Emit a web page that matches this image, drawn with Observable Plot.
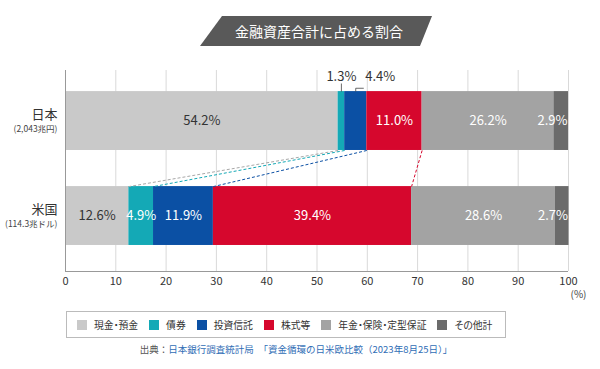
<!DOCTYPE html>
<html><head><meta charset="utf-8">
<script src="https://cdn.jsdelivr.net/npm/d3@7"></script>
<script src="https://cdn.jsdelivr.net/npm/@observablehq/plot@0.6"></script>
<style>
body{margin:0;background:#fff;font-family:'Noto Sans CJK JP',sans-serif;width:600px;height:369px;overflow:hidden;}
#title{margin:16px 0 0 200px;width:232px;height:30px;background:#595959;color:#fff;font-size:14px;line-height:30px;text-align:center;
 clip-path:polygon(22px 0,100% 0,calc(100% - 12px) 100%,0 100%);padding-left:6px;box-sizing:border-box;}
#chart{margin-top:9px;height:248px;}
#chart svg{display:block;}
#legend{margin:8px 0 0 66px;width:440px;height:27px;box-sizing:border-box;border:1px solid #bbb;display:flex;align-items:center;padding-left:10px;font-size:9.8px;color:#333;font-feature-settings:"palt";}
.item{display:flex;align-items:center;margin-right:11px;white-space:nowrap;}
.sw{width:10px;height:10px;margin-right:7px;}
#source{margin-top:4px;text-align:center;font-size:9.5px;color:#555;line-height:14px;padding-right:8px;}
#source span{color:#2f6db5;}
</style></head>
<body>
<div id="title">金融資産合計に占める割合</div>
<div id="chart"></div>
<div id="legend"></div>
<div id="source">出典：<span>日本銀行調査統計局　「資金循環の日米欧比較（2023年8月25日）」</span></div>
<script>
const countries = ["日本", "米国"];
const totals = ["(2,043兆円)", "(114.3兆ドル)"];
const categories = ["現金・預金", "債券", "投資信託", "株式等", "年金・保険・定型保証", "その他計"];
const colors = ["#c9c9c9", "#14a9b6", "#0b50a4", "#d6072d", "#a3a3a3", "#6b6b6b"];
const japanShares = [54.2, 1.3, 4.4, 11.0, 26.2, 2.9];
const usShares = [12.6, 4.9, 11.9, 39.4, 28.6, 2.7];
const xTicks = [0, 10, 20, 30, 40, 50, 60, 70, 80, 90, 100];

const H = 0.31;
const yDomain = [-0.532, 1.584];
const series = [japanShares, usShares];
const ends = series.map(v => Array.from(d3.cumsum(v)));
const segs = series.flatMap((vals, row) => vals.map((v, j) => ({
  row, j, category: categories[j], value: v, x1: ends[row][j] - v, x2: ends[row][j]
})));
const isCallout = d => d.row === 0 && d.value < 5 && d.j < categories.length - 1;
const isLast = d => d.j === categories.length - 1;
const inside = segs.filter(d => !isCallout(d) && !isLast(d));
const lasts = segs.filter(isLast);
const callouts = segs.filter(isCallout);
const mid = d => (d.x1 + d.x2) / 2;
const links = d3.range(4).map(j => ({j, x1: ends[0][j], x2: ends[1][j]}));
const linkColor = d => d.j === 0 ? "#a8a8a8" : colors[d.j];
const pct = d => d.value.toFixed(1) + "%";

const leaderV = callouts.map((d, k) => ({x: mid(d), y1: -H, y2: -H - (k === 0 ? 0.085 : 0.035)}));
const leaderH = callouts.slice(1).map(d => ({x1: mid(d), x2: mid(d) + 1.6, y: -H - 0.035}));

const plot = Plot.plot({
  width: 600, height: 248,
  marginTop: 15, marginBottom: 32, marginLeft: 65, marginRight: 32,
  style: {fontFamily: "'Noto Sans CJK JP', sans-serif", background: "transparent"},
  x: {domain: [0, 100], label: null},
  y: {domain: yDomain, reverse: true, axis: null},
  color: {domain: categories, range: colors},
  marks: [
    Plot.gridX({ticks: xTicks, stroke: "#d9d9d9", strokeOpacity: 1}),
    Plot.rect(segs, {x1: "x1", x2: "x2", y1: d => d.row - H, y2: d => d.row + H, fill: "category"}),
    Plot.link(links, {x1: "x1", x2: "x2", y1: () => H, y2: () => 1 - H, stroke: linkColor, strokeDasharray: "3,2", strokeWidth: 1}),
    Plot.link(leaderV, {x1: "x", x2: "x", y1: "y1", y2: "y2", stroke: "#444", strokeWidth: 0.8}),
    Plot.link(leaderH, {x1: "x1", x2: "x2", y1: "y", y2: "y", stroke: "#444", strokeWidth: 0.8}),
    Plot.text(inside, {x: mid, y: "row", text: pct, fill: d => d.j === 0 ? "#333" : "#fff", fontSize: 13}),
    Plot.text(lasts, {x: "x2", y: "row", text: pct, textAnchor: "end", dx: -1, fill: "#fff", fontSize: 13}),
    Plot.text(callouts.slice(0, 1), {x: mid, y: "row", text: pct, dy: -44.5, fill: "#333", fontSize: 13}),
    Plot.text(callouts.slice(1), {x: mid, y: "row", text: pct, dy: -44.5, dx: 24.5, fill: "#333", fontSize: 13}),
    Plot.text(countries, {x: 0, y: (d, i) => i, text: d => d, dx: -8, dy: -6.5, textAnchor: "end", fontSize: 13, fill: "#333"}),
    Plot.text(totals, {x: 0, y: (d, i) => i, text: d => d, dx: -8, dy: 8, textAnchor: "end", fontSize: 8.5, fill: "#444"}),
    Plot.ruleX([0], {stroke: "#999"}),
    Plot.ruleY([yDomain[1]], {stroke: "#999"}),
    Plot.axisX({ticks: xTicks, tickSize: 0, tickPadding: 6, fontSize: 11, fill: "#333", label: null}),
    Plot.text(["(%)"], {x: 100, frameAnchor: "bottom", text: d => d, dx: 10, dy: 26, fontSize: 10, fill: "#444"})
  ]
});
document.getElementById("chart").appendChild(plot);

const legend = document.getElementById("legend");
categories.forEach((c, i) => {
  const it = document.createElement("div"); it.className = "item";
  const sw = document.createElement("div"); sw.className = "sw"; sw.style.background = colors[i];
  const t = document.createElement("span"); t.textContent = c;
  it.appendChild(sw); it.appendChild(t); legend.appendChild(it);
});
</script>
</body></html>
